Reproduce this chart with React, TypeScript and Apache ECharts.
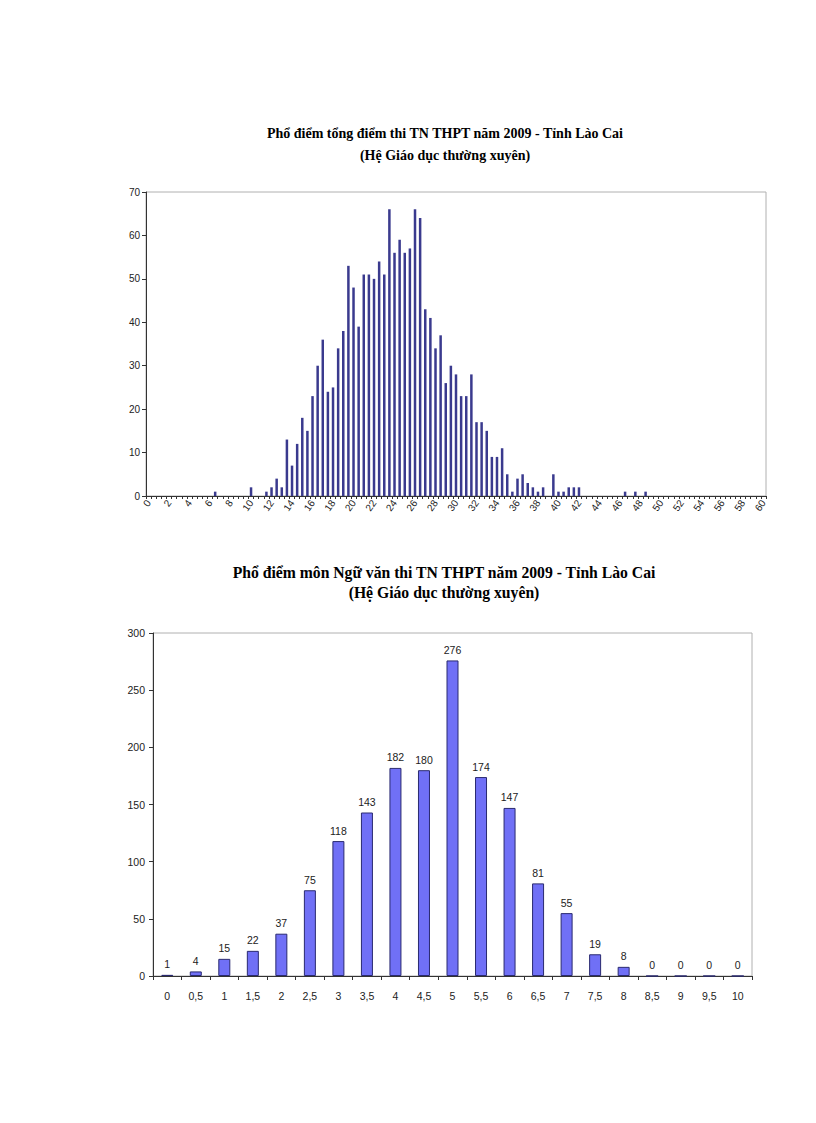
import React, { useEffect, useRef } from 'react';
import * as echarts from 'echarts';

// Chart 1: total score distribution (0 to 60, step 0.5)
const totalScoreCategories: string[] = [];
for (let i = 0; i <= 120; i++) {
  totalScoreCategories.push(String(i / 2).replace('.', ','));
}
const totalScoreCounts = [
  0, 0, 0, 0, 0, 0, 0, 0, 0, 0, 0, 0, 0, 1, 0, 0, 0, 0, 0, 0,
  2, 0, 0, 1, 2, 4, 2, 13, 7, 12, 18, 15, 23, 30, 36, 24, 25, 34, 38, 53,
  48, 39, 51, 51, 50, 54, 51, 66, 56, 59, 56, 57, 66, 64, 43, 41, 34, 37, 26, 30,
  28, 23, 23, 28, 17, 17, 15, 9, 9, 11, 5, 1, 4, 5, 3, 2, 1, 2, 0, 5,
  1, 1, 2, 2, 2, 0, 0, 0, 0, 0, 0, 0, 0, 1, 0, 1, 0, 1, 0, 0,
  0, 0, 0, 0, 0, 0, 0, 0, 0, 0, 0, 0, 0, 0, 0, 0, 0, 0, 0, 0,
  0,
];
const totalTitle = 'Phổ điểm tổng điểm thi TN THPT năm 2009 - Tỉnh Lào Cai';
const subTitle = '(Hệ Giáo dục thường xuyên)';

// Chart 2: literature score distribution
const literatureCategories = ['0', '0,5', '1', '1,5', '2', '2,5', '3', '3,5', '4', '4,5', '5', '5,5', '6', '6,5', '7', '7,5', '8', '8,5', '9', '9,5', '10'];
const literatureCounts = [1, 4, 15, 22, 37, 75, 118, 143, 182, 180, 276, 174, 147, 81, 55, 19, 8, 0, 0, 0, 0];
const literatureTitle = 'Phổ điểm môn Ngữ văn thi TN THPT năm 2009 - Tỉnh Lào Cai';

const sans = 'Liberation Sans, Arial, sans-serif';
const serif = 'Liberation Serif, Times New Roman, serif';

export default function App() {
  const ref = useRef<HTMLDivElement>(null);
  useEffect(() => {
    if (!ref.current) return;
    const chart = echarts.init(ref.current, null, { renderer: 'svg' });
    const titleStyle = (text: string, x: number, y: number, size: number) => ({
      type: 'text',
      x,
      y,
      style: {
        text,
        textAlign: 'center',
        textVerticalAlign: 'middle',
        font: `bold ${size}px ${serif}`,
        fill: '#000',
      },
    });
    chart.setOption({
      animation: false,
      backgroundColor: '#fff',
      graphic: [
        titleStyle(totalTitle, 445, 133, 14),
        titleStyle(subTitle, 445, 155, 14),
        titleStyle(literatureTitle, 444, 572, 15.7),
        titleStyle(subTitle, 444, 592, 15.7),
      ],
      grid: [
        { left: 146, top: 192, width: 620, height: 304, show: true, borderColor: '#b0b0b0', borderWidth: 1, containLabel: false },
        { left: 153, top: 633, width: 599, height: 343, show: true, borderColor: '#b0b0b0', borderWidth: 1, containLabel: false },
      ],
      xAxis: [
        {
          type: 'category',
          gridIndex: 0,
          data: totalScoreCategories,
          boundaryGap: true,
          axisLine: { lineStyle: { color: '#333', width: 1 } },
          axisTick: { show: true, interval: 0, length: 3, lineStyle: { color: '#333' } },
          axisLabel: { interval: 3, rotate: 55, fontSize: 10, color: '#222', fontFamily: sans, margin: 5 },
          splitLine: { show: false },
        },
        {
          type: 'category',
          gridIndex: 1,
          data: literatureCategories,
          boundaryGap: true,
          axisLine: { lineStyle: { color: '#333', width: 1 } },
          axisTick: { show: true, interval: 0, length: 4, lineStyle: { color: '#333' } },
          axisLabel: { interval: 0, fontSize: 10.5, color: '#222', fontFamily: sans, margin: 14 },
          splitLine: { show: false },
        },
      ],
      yAxis: [
        {
          type: 'value',
          gridIndex: 0,
          min: 0,
          max: 70,
          interval: 10,
          axisLine: { show: true, lineStyle: { color: '#333' } },
          axisTick: { show: true, length: 4, lineStyle: { color: '#333' } },
          axisLabel: { fontSize: 10, color: '#222', fontFamily: sans, margin: 6 },
          splitLine: { show: false },
        },
        {
          type: 'value',
          gridIndex: 1,
          min: 0,
          max: 300,
          interval: 50,
          axisLine: { show: true, lineStyle: { color: '#333' } },
          axisTick: { show: true, length: 4, lineStyle: { color: '#333' } },
          axisLabel: { fontSize: 10.5, color: '#222', fontFamily: sans, margin: 8 },
          splitLine: { show: false },
        },
      ],
      series: [
        {
          type: 'bar',
          xAxisIndex: 0,
          yAxisIndex: 0,
          data: totalScoreCounts,
          barWidth: 2.5,
          itemStyle: { color: '#3a3a8e' },
        },
        {
          type: 'bar',
          xAxisIndex: 1,
          yAxisIndex: 1,
          data: literatureCounts,
          barWidth: 12,
          itemStyle: { color: '#7070f6', borderColor: '#2a2a70', borderWidth: 1 },
          label: { show: true, position: 'top', distance: 5, fontSize: 10.5, color: '#222', fontFamily: sans },
        },
      ],
    });
    return () => chart.dispose();
  }, []);
  return <div ref={ref} style={{ position: 'absolute', left: 0, top: 0, width: 816, height: 1123 }} />;
}
